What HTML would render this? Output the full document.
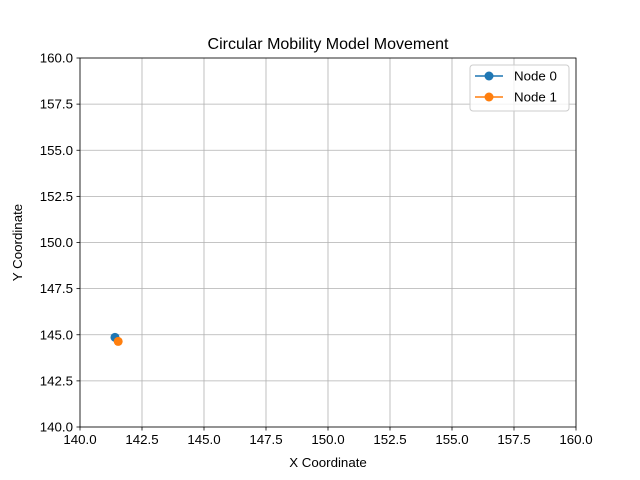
<!DOCTYPE html>
<html><head><meta charset="utf-8"><style>body{margin:0;background:#fff}svg{display:block;font-family:"Liberation Sans",sans-serif}</style></head>
<body>
<svg id="chart" width="640" height="480" xmlns="http://www.w3.org/2000/svg"></svg>
<script>
const xTicks=[140,142.5,145,147.5,150,152.5,155,157.5,160];
const yTicks=[140,142.5,145,147.5,150,152.5,155,157.5,160];
const seriesNames=["Node 0","Node 1"];
const node0X=[141.41];
const node0Y=[144.86];
const node1X=[141.54];
const node1Y=[144.64];
const colors=["#1f77b4","#ff7f0e"];
const L=80,R=576,T=58,B=427,x0=140,x1=160,y0=140,y1=160;
const sx=v=>L+(v-x0)/(x1-x0)*(R-L);
const sy=v=>B-(v-y0)/(y1-y0)*(B-T);
const svg=document.getElementById('chart');
const NS="http://www.w3.org/2000/svg";
function mk(t,a,p){const e=document.createElementNS(NS,t);for(const k in a)e.setAttribute(k,a[k]);(p||svg).appendChild(e);return e;}
const grid=mk('g',{});


xTicks.forEach(v=>{const x=sx(v);
 mk('line',{x1:x,x2:x,y1:T,y2:B,stroke:'#b0b0b0','stroke-width':0.8},grid);
 mk('line',{x1:x,x2:x,y1:B,y2:B+3.5,stroke:'#000','stroke-width':0.8});
 const t=mk('text',{x:x,y:B+17,'text-anchor':'middle','font-size':13.3});t.textContent=v.toFixed(1);
 
 });
yTicks.forEach(v=>{const y=sy(v);
 mk('line',{x1:L,x2:R,y1:y,y2:y,stroke:'#b0b0b0','stroke-width':0.8},grid);
 mk('line',{x1:L-3.5,x2:L,y1:y,y2:y,stroke:'#000','stroke-width':0.8});
 const t=mk('text',{x:L-7,y:y+4.5,'text-anchor':'end','font-size':13.3});t.textContent=v.toFixed(1);
 
 });
const series=[[node0X,node0Y],[node1X,node1Y]];
series.forEach((s,i)=>{
 const pts=s[0].map((v,j)=>sx(v)+','+sy(s[1][j])).join(' ');
 const pl=mk('polyline',{points:pts,fill:'none',stroke:colors[i],'stroke-width':1.5});
 
 
 s[0].forEach((v,j)=>{const c=mk('circle',{cx:sx(v),cy:sy(s[1][j]),r:4.5,fill:colors[i]});
  
  });
});
const fr=mk('rect',{x:L,y:T,width:R-L,height:B-T,fill:'none',stroke:'#000','stroke-width':0.8});


const ti=mk('text',{x:(L+R)/2,y:T-9,'text-anchor':'middle','font-size':16});ti.textContent='Circular Mobility Model Movement';


const xl=mk('text',{x:(L+R)/2,y:467,'text-anchor':'middle','font-size':13.3});xl.textContent='X Coordinate';


const yl=mk('text',{x:22,y:(T+B)/2,'text-anchor':'middle','font-size':13.3,transform:'rotate(-90 22 '+(T+B)/2+')'});yl.textContent='Y Coordinate';


const lg=mk('g',{});


mk('rect',{x:470,y:65,width:99,height:46,rx:3,fill:'#fff','fill-opacity':0.8,stroke:'#ccc'},lg);
seriesNames.forEach((n,i)=>{const y=76+i*21;
 mk('line',{x1:475,x2:503,y1:y,y2:y,stroke:colors[i],'stroke-width':1.5},lg);
 mk('circle',{cx:489,cy:y,r:4.5,fill:colors[i]},lg);
 const t=mk('text',{x:514,y:y+4.5,'font-size':13.3},lg);t.textContent=n;
 
 });
</script>
</body></html>
